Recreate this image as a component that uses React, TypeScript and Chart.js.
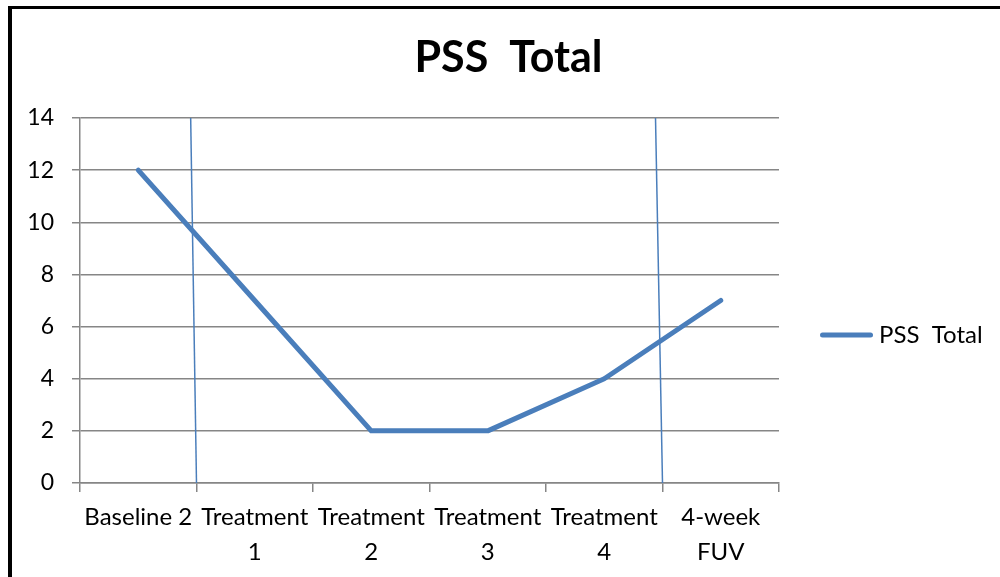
import React, { useEffect, useRef } from "react";
import { Chart, registerables } from "chart.js";

Chart.register(...registerables);

const TITLE = "PSS  Total";
const SERIES_LABEL = "PSS  Total";
const categories: string[][] = [
  ["Baseline 2"],
  ["Treatment", "1"],
  ["Treatment", "2"],
  ["Treatment", "3"],
  ["Treatment", "4"],
  ["4-week", "FUV"],
];
const values: number[] = [12, 7, 2, 2, 4, 7];
const yMin = 0;
const yMax = 14;
const yStep = 2;
// phase-change lines, in category-index units (top at yMax, bottom at yMin)
const phaseTop: number[] = [0.45, 4.44];
const phaseBottom: number[] = [0.5, 4.5];

const FONT = 'Lato, "Open Sans", sans-serif';
const BLUE = "#4a7ebb";
const GRID = "#868686";

const decor = {
  id: "decor",
  beforeDatasetsDraw(chart: any) {
    const { ctx, scales } = chart;
    const x = scales.x;
    const y = scales.y;
    ctx.save();
    ctx.strokeStyle = BLUE;
    ctx.lineWidth = 1.5;
    for (let i = 0; i < phaseTop.length; i++) {
      ctx.beginPath();
      ctx.moveTo(x.getPixelForValue(phaseTop[i]), y.getPixelForValue(yMax));
      ctx.lineTo(x.getPixelForValue(phaseBottom[i]), y.getPixelForValue(yMin));
      ctx.stroke();
    }
    ctx.restore();
  },
  afterDraw(chart: any) {
    const { ctx } = chart;
    ctx.save();
    // frame
    ctx.fillStyle = "#000";
    ctx.fillRect(8, 6, 4, 600);
    ctx.fillRect(8, 6, 1000, 3);
    // title
    ctx.fillStyle = "#000";
    ctx.font = `bold 43px ${FONT}`;
    ctx.textAlign = "center";
    ctx.textBaseline = "alphabetic";
    ctx.fillText(TITLE, 508.5, 72);
    // legend
    const ds = chart.data.datasets[0];
    ctx.strokeStyle = ds.borderColor;
    ctx.lineWidth = 5;
    ctx.lineCap = "round";
    ctx.beginPath();
    ctx.moveTo(822.5, 335);
    ctx.lineTo(870.5, 335);
    ctx.stroke();
    ctx.font = `24px ${FONT}`;
    ctx.textAlign = "left";
    ctx.fillStyle = "#000";
    ctx.fillText(ds.label, 879, 343);
    ctx.restore();
  },
};

export default function App() {
  const ref = useRef<HTMLCanvasElement>(null);
  useEffect(() => {
    if (!ref.current) return;
    const chart = new Chart(ref.current, {
      type: "line",
      data: {
        labels: categories,
        datasets: [
          {
            label: SERIES_LABEL,
            data: values,
            borderColor: BLUE,
            backgroundColor: BLUE,
            borderWidth: 5,
            pointRadius: 0,
            pointHoverRadius: 0,
            borderCapStyle: "round",
            borderJoinStyle: "round",
            tension: 0,
          },
        ],
      },
      options: {
        animation: false,
        responsive: false,
        events: [],
        layout: { padding: { left: 0, top: 118, right: 221, bottom: 0 } },
        plugins: {
          legend: { display: false },
          title: { display: false },
          tooltip: { enabled: false },
        },
        scales: {
          x: {
            offset: true,
            afterFit: (s: any) => {
              s.height = 94;
            },
            grid: {
              offset: true,
              drawOnChartArea: false,
              drawTicks: true,
              tickLength: 9,
              color: GRID,
              lineWidth: 1.5,
            },
            border: { display: true, color: GRID, width: 1.5 },
            ticks: {
              autoSkip: false,
              maxRotation: 0,
              minRotation: 0,
              padding: 7.5,
              color: "#000",
              font: { family: FONT, size: 24, lineHeight: 1.458 },
            },
          },
          y: {
            min: yMin,
            max: yMax,
            afterFit: (s: any) => {
              s.width = 80;
            },
            grid: {
              color: GRID,
              lineWidth: 1.5,
              drawTicks: true,
              tickLength: 8,
            },
            border: { display: true, color: GRID, width: 1.5 },
            ticks: {
              stepSize: yStep,
              padding: 18,
              color: "#000",
              font: { family: FONT, size: 23 },
            },
          },
        },
      },
      plugins: [decor],
    });
    return () => chart.destroy();
  }, []);
  return (
    <div style={{ position: "absolute", left: 0, top: 0, width: 1000, height: 577, background: "#fff" }}>
      <canvas ref={ref} width={1000} height={577} style={{ display: "block" }} />
    </div>
  );
}
